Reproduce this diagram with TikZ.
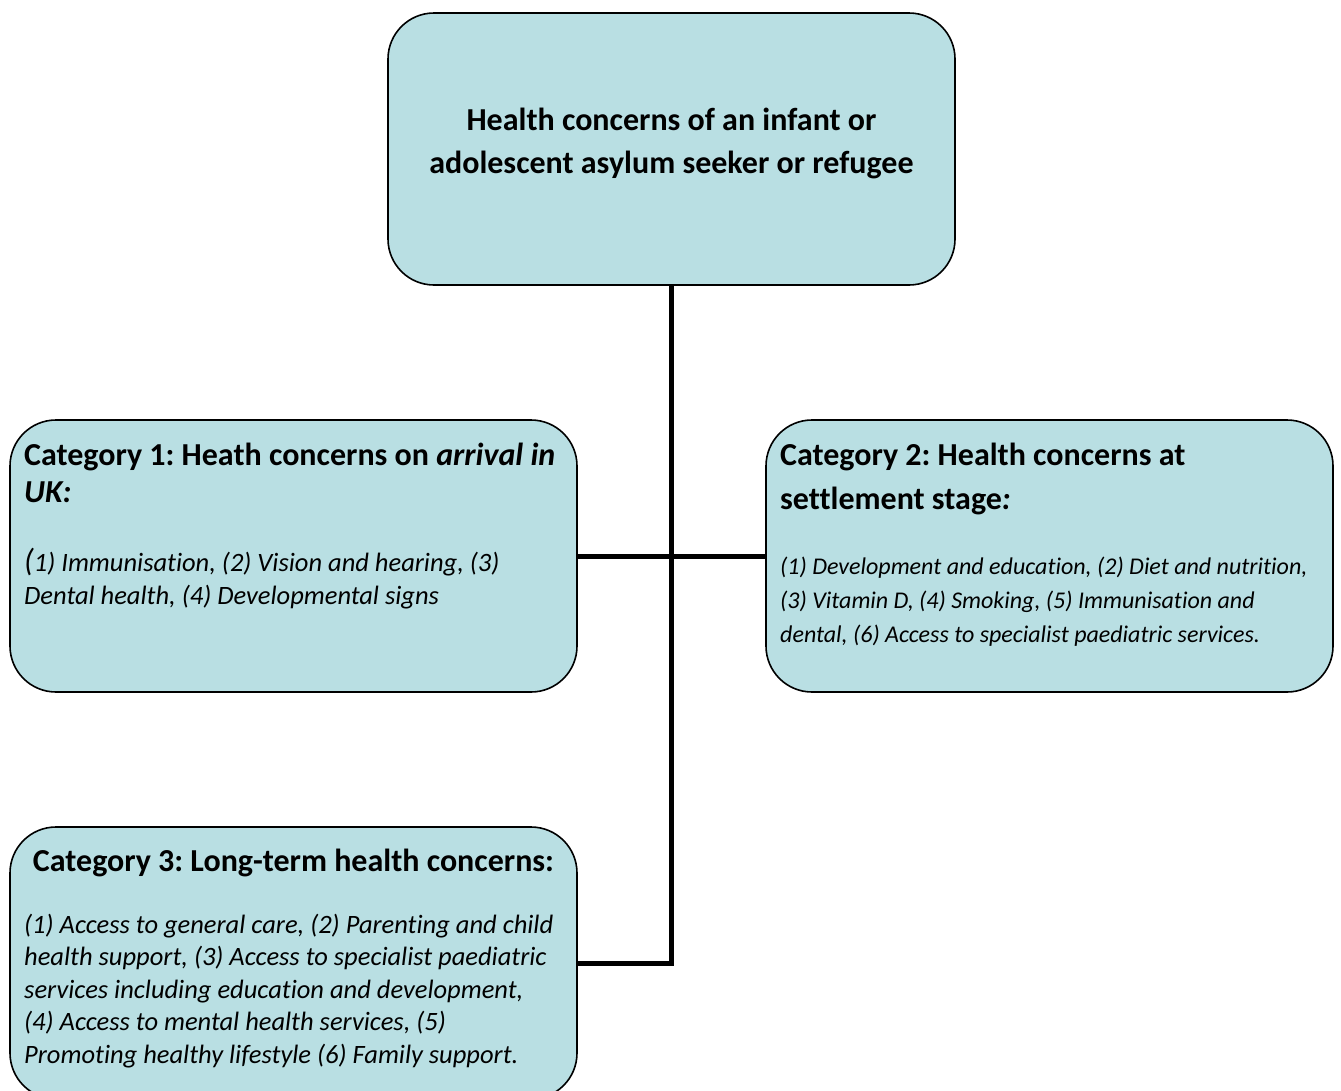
\documentclass[tikz,border=0pt]{standalone}
\usepackage{fontspec}
\setmainfont[Ligatures={NoCommon}]{Carlito}
\definecolor{boxfill}{HTML}{B9DFE3}
\begin{document}
\frenchspacing
\begin{tikzpicture}[x=1pt,y=-1pt,
  catbox/.style={draw=black, line width=1.6pt, fill=boxfill, rounded corners=46pt,
    minimum width=567pt, minimum height=272pt, inner sep=0pt},
  link/.style={line width=5pt},
  txt/.style={inner sep=0pt, anchor=base west},
  hd/.style={txt, font=\frenchspacing\bfseries\fontsize{32}{36}\selectfont},
  bd/.style={txt, font=\frenchspacing\itshape\fontsize{26.5}{28}\selectfont},
  bd2/.style={txt, font=\frenchspacing\itshape\fontsize{24}{27}\selectfont}]
\useasboundingbox (0,0) rectangle (1341,1090);
\begin{scope}
\clip (0,0) rectangle (1341,1090);
\node[catbox] (top) at (671.5,149) {};
\node[catbox] (c1) at (293.5,556) {};
\node[catbox] (c2) at (1049.5,556) {};
\node[catbox] (c3) at (293.5,963) {};
\end{scope}
\draw[link] (top.south) -- (top.south |- c3.east) -- (c3.east);
\draw[link] (c1.east) -- (c2.west);
% top text
\node[hd, anchor=base] (t1) at (671.5,130) {Health concerns of an infant or};
\node[hd, anchor=base] (t2) at (671.5,173) {adolescent asylum seeker or refugee};
% category 1
\node[hd] (h1a) at (24,465) {Category 1: Heath concerns on \textit{arrival in}};
\node[hd] (h1b) at (24,502) {\textit{UK:}};
\node[bd] (b1a) at (24,571) {\fontsize{32}{32}\selectfont(\fontsize{26.5}{28}\selectfont1) Immunisation, (2) Vision and hearing, (3)};
\node[bd] (b1b) at (24,604) {Dental health, (4) Developmental signs};
% category 2
\node[hd] (h2a) at (780,465) {Category 2: Health concerns at};
\node[hd] (h2b) at (780,509) {settlement stage\textit{:}};
\node[bd2] (b2a) at (780,574) {(1) Development and education, (2) Diet and nutrition,};
\node[bd2] (b2b) at (780,608) {(3) Vitamin D, (4) Smoking, (5) Immunisation and};
\node[bd2] (b2c) at (780,642) {dental, (6) Access to specialist paediatric services.};
% category 3
\node[hd, anchor=base] (h3) at (293.5,871) {Category 3: Long-term health concerns:};
\node[bd] (b3a) at (24,933) {(1) Access to general care, (2) Parenting and child};
\node[bd] (b3b) at (24,965) {health support, (3) Access to specialist paediatric};
\node[bd] (b3c) at (24,998) {services including education and development,};
\node[bd] (b3d) at (24,1030) {(4) Access to mental health services, (5)};
\node[bd] (b3e) at (24,1063) {Promoting healthy lifestyle (6) Family support.};
\end{tikzpicture}
\end{document}
